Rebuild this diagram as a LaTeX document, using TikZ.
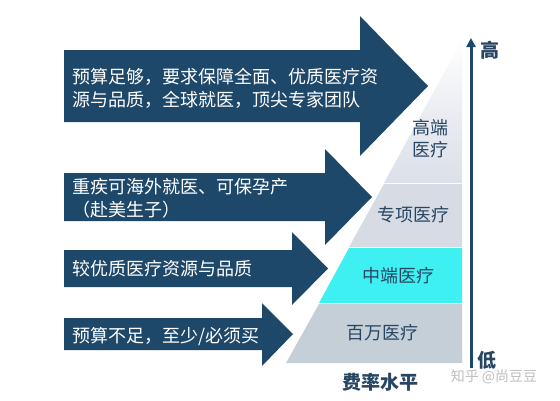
\documentclass[tikz,border=0pt]{standalone}
\usepackage{fontspec}
\newfontfamily\cjk{Noto Sans CJK SC}
\usetikzlibrary{arrows.meta}
\definecolor{arrowblue}{RGB}{30,72,106}
\definecolor{labelblue}{RGB}{40,70,100}
\definecolor{bandA}{RGB}{220,224,233}
\definecolor{bandB}{RGB}{214,219,228}
\definecolor{bandC}{RGB}{62,240,242}
\definecolor{bandD}{RGB}{197,207,216}
\definecolor{wm}{RGB}{190,190,190}
\tikzset{
  bigarrow/.style={fill=arrowblue, draw=none},
  arrowtext/.style={font=\cjk\fontsize{18}{23}\selectfont, text=white, anchor=west, align=left, inner sep=0pt},
  bandtext/.style={font=\cjk\fontsize{18}{22}\selectfont, text=labelblue, inner sep=0pt, align=center},
  axislabel/.style={font=\cjk\bfseries\fontsize{19}{22}\selectfont, text=labelblue, inner sep=0pt},
}
\begin{document}
\begin{tikzpicture}[x=1pt,y=-1pt]
\useasboundingbox (0,0) rectangle (560,400);
\fill[white] (0,0) rectangle (560,400);
% bands of the pyramid
\shade[top color=white, bottom color=bandA, middle color=bandA!60] (462,40) -- (462,183) -- (384,183) -- cycle;
\fill[bandB] (384,184) -- (462,184) -- (462,247) -- (349,247) -- cycle;
\fill[bandC] (349,248) -- (462,248) -- (462,303) -- (319,303) -- cycle;
\fill[bandD] (319,304) -- (462,304) -- (462,363) -- (286,363) -- cycle;
% big arrows
\fill[bigarrow] (64,50) -- (360,50) -- (360,16) -- (428,86) -- (360,156) -- (360,122) -- (64,122) -- cycle;
\fill[bigarrow] (64,173) -- (325,173) -- (325,149) -- (372,197) -- (325,245) -- (325,221) -- (64,221) -- cycle;
\fill[bigarrow] (64,250) -- (292,250) -- (292,232) -- (328,268.5) -- (292,305) -- (292,287) -- (64,287) -- cycle;
\fill[bigarrow] (64,318) -- (262,318) -- (262,303) -- (293,334) -- (262,366) -- (262,350) -- (64,350) -- cycle;
% arrow texts
\node[arrowtext] (t1) at (72,88.5) {预算足够，要求保障全面、优质医疗资\\源与品质，全球就医，顶尖专家团队};
\node[arrowtext] (t2) at (72,198.5) {重疾可海外就医、可保孕产\\（赴美生子）};
\node[arrowtext] (t3) at (72,269) {较优质医疗资源与品质};
\node[arrowtext] (t4) at (72,336) {预算不足，至少/必须买};
% band labels
\node[bandtext] (b1) at (430,139) {高端\\医疗};
\node[bandtext] (b2) at (413,215) {专项医疗};
\node[bandtext] (b3) at (398,276) {中端医疗};
\node[bandtext] (b4) at (382,333) {百万医疗};
% vertical axis
\coordinate (axbot) at (471,368);
\coordinate (axtop) at (471,38);
\draw[arrowblue, line width=3pt, -{Triangle[length=9pt,width=9pt]}] (axbot) -- (axtop);
\node[axislabel] (hi) at (490,50) {高};
\node[axislabel] (lo) at (487,360) {低};
\node[axislabel] (rate) at (380,382) {费率水平};
\node[font=\cjk\fontsize{14}{16}\selectfont, text=wm, inner sep=0pt] (wmk) at (494,377) {知乎 @尚豆豆};
\end{tikzpicture}
\end{document}
